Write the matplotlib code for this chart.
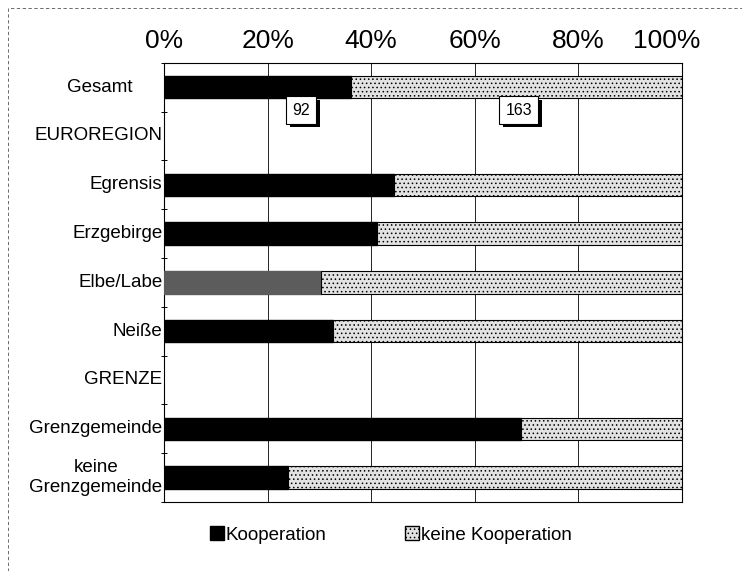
import numpy as np
import matplotlib.pyplot as plt
import matplotlib.transforms as mtransforms
from matplotlib.patches import Rectangle, Patch
import matplotlib.patheffects as pe

plt.rcParams["font.family"] = ["Liberation Sans", "DejaVu Sans"]
plt.rcParams["hatch.linewidth"] = 0.6

# Data (share in %)
categories = ["Gesamt", "EUROREGION", "Egrensis", "Erzgebirge", "Elbe/Labe",
              "Neiße", "GRENZE", "Grenzgemeinde", "keine\nGrenzgemeinde"]
kooperation = [36.1, 0, 44.4, 41.1, 30.3, 32.6, 0, 69.0, 23.9]
header_rows = ["EUROREGION", "GRENZE"]
count_labels = ["92", "163"]
count_x = [26.5, 68.5]
tick_vals = [0, 20, 40, 60, 80, 100]
tick_labels = ["0%", "20%", "40%", "60%", "80%", "100%"]

fig = plt.figure(figsize=(7.42, 5.71), dpi=100)
ax = fig.add_axes([0.221, 0.121, 0.698, 0.769])

y = np.arange(len(categories))
for i, cat in enumerate(categories):
    if cat in header_rows:
        continue
    k = kooperation[i]
    col = "#5c5c5c" if cat == "Elbe/Labe" else "black"
    ax.barh(i, k, height=0.46, color=col, edgecolor=col, zorder=3)
    ax.barh(i, 100 - k, left=k, height=0.46, color="#e2e2e2",
            edgecolor="black", hatch="....", linewidth=0.8, zorder=3)

ax.set_xlim(0, 100)
ax.set_ylim(len(categories) - 0.5, -0.5)
ax.set_xticks(tick_vals)
ax.set_xticklabels(tick_labels, fontsize=19)
ax.xaxis.tick_top()
ax.tick_params(axis="x", length=0, pad=7)
last = ax.get_xticklabels()[-1]
last.set_transform(last.get_transform() +
                   mtransforms.ScaledTranslation(-0.15, 0, fig.dpi_scale_trans))
ax.grid(axis="x", color="black", linewidth=0.6, zorder=1)

ax.set_yticks(y)
ax.set_yticklabels([])
ax.set_yticks(np.arange(len(categories) + 1) - 0.5, minor=True)
ax.tick_params(axis="y", which="major", length=0)
ax.tick_params(axis="y", which="minor", length=4, direction="inout", width=0.7)

for i, cat in enumerate(categories):
    xoff = -6.0 if cat == "Gesamt" else -0.3
    ax.text(xoff, i, cat, ha="right", va="center", fontsize=13.5,
            multialignment="center")

for s in ax.spines.values():
    s.set_linewidth(0.8)

# count boxes with shadow
for lab, xv in zip(count_labels, count_x):
    ax.text(xv, 0.47, lab, ha="center", va="center", fontsize=11.5, zorder=5,
            bbox=dict(boxstyle="square,pad=0.4", fc="white", ec="black", lw=0.8,
                      path_effects=[pe.withSimplePatchShadow(offset=(2.5, -2.5),
                                                             shadow_rgbFace="black",
                                                             alpha=1)]))

handles = [Patch(facecolor="black", edgecolor="black", label="Kooperation"),
           Patch(facecolor="#e2e2e2", edgecolor="black", hatch="....",
                 label="keine Kooperation")]
fig.legend(handles=handles, loc="center", bbox_to_anchor=(0.527, 0.063), ncol=2,
           frameon=False, fontsize=13.5, handlelength=0.75, handleheight=0.75,
           handletextpad=0.1, columnspacing=4.2)

# dashed outer frame of the scanned figure
fig.patches.append(Rectangle((0.011, -0.05), 1.2, 1.036, transform=fig.transFigure,
                             fill=False, ls=(0, (4, 3)), lw=0.6, ec="#555555"))

fig.savefig("out.png", dpi=100)
